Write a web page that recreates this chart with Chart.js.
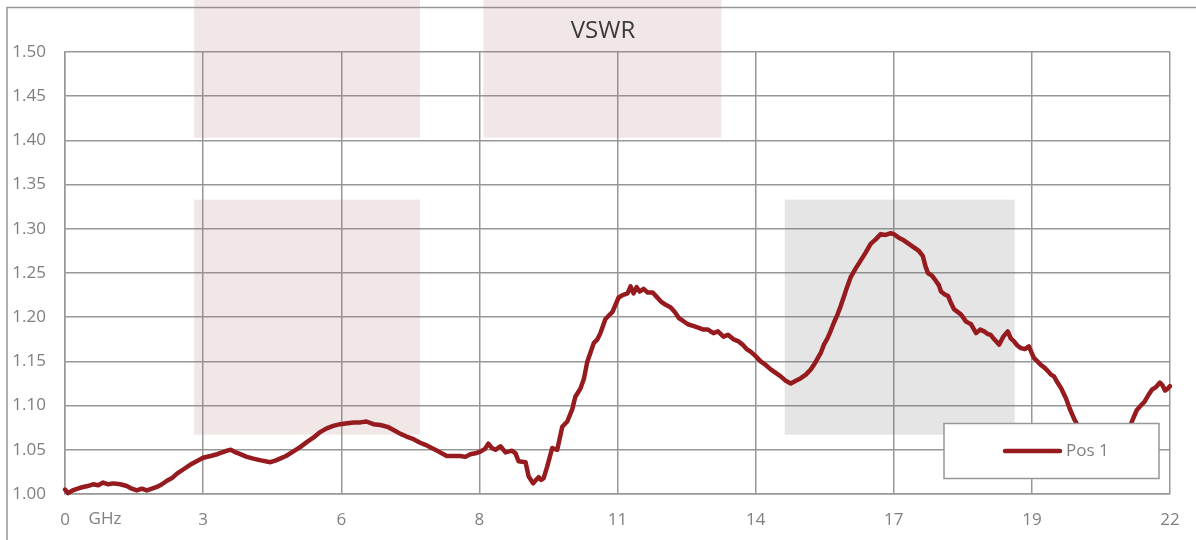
<!DOCTYPE html>
<html>
<head>
<meta charset="utf-8">
<script src="https://cdn.jsdelivr.net/npm/chart.js@4/dist/chart.umd.min.js"></script>
<style>
  html, body { margin: 0; padding: 0; background: #fff; }
  #wrap { position: relative; width: 1196px; height: 540px; }
</style>
</head>
<body>
<div id="wrap"><canvas id="vswrChart"></canvas></div>
<script>
// frequency (GHz) and VSWR
const freqGHz = [
  0.00, 0.06, 0.15, 0.30, 0.45, 0.56, 0.66, 0.76, 0.86, 0.96, 1.10, 1.23, 1.33, 1.43, 1.53, 1.63, 1.73, 1.83, 1.93, 2.03,
  2.13, 2.23, 2.36, 2.49, 2.62, 2.75, 2.90, 3.03, 3.13, 3.23, 3.30, 3.40, 3.49, 3.62, 3.75, 3.90, 4.09, 4.20, 4.28, 4.40,
  4.54, 4.68, 4.82, 4.95, 5.08, 5.20, 5.34, 5.48, 5.62, 5.75, 5.88, 6.00, 6.14, 6.28, 6.42, 6.55, 6.68, 6.80, 6.94, 7.07,
  7.20, 7.30, 7.41, 7.50, 7.60, 7.75, 7.87, 7.97, 8.07, 8.17, 8.27, 8.36, 8.43, 8.50, 8.57, 8.67, 8.77, 8.90, 8.97, 9.03,
  9.17, 9.23, 9.32, 9.38, 9.43, 9.48, 9.53, 9.60, 9.70, 9.80, 9.90, 10.00, 10.10, 10.16, 10.26, 10.33, 10.40, 10.53, 10.60, 10.66,
  10.76, 10.90, 11.02, 11.10, 11.20, 11.26, 11.32, 11.38, 11.44, 11.52, 11.60, 11.70, 11.78, 11.86, 11.96, 12.06, 12.14, 12.22, 12.30, 12.40,
  12.52, 12.62, 12.71, 12.80, 12.91, 13.00, 13.11, 13.20, 13.31, 13.40, 13.49, 13.57, 13.65, 13.75, 13.85, 13.95, 14.05, 14.15, 14.25, 14.35,
  14.45, 14.55, 14.65, 14.75, 14.85, 14.92, 14.99, 15.05, 15.11, 15.18, 15.24, 15.31, 15.38, 15.44, 15.50, 15.57, 15.64, 15.74, 15.84, 15.94,
  16.04, 16.14, 16.24, 16.34, 16.44, 16.50, 16.60, 16.70, 16.80, 16.90, 17.00, 17.08, 17.13, 17.18, 17.26, 17.34, 17.40, 17.44, 17.51, 17.58,
  17.64, 17.70, 17.77, 17.84, 17.94, 18.04, 18.14, 18.22, 18.30, 18.37, 18.43, 18.50, 18.60, 18.68, 18.77, 18.83, 18.89, 18.96, 19.03, 19.11,
  19.19, 19.29, 19.36, 19.43, 19.50, 19.57, 19.63, 19.69, 19.76, 19.83, 19.93, 20.00, 20.10, 20.18, 20.35, 20.55, 20.70, 20.85, 21.00, 21.20,
  21.27, 21.34, 21.42, 21.50, 21.57, 21.64, 21.72, 21.80, 21.85, 21.90, 21.95, 22.00
];
const vswr = [
  1.005, 1.001, 1.004, 1.007, 1.009, 1.011, 1.010, 1.013, 1.011, 1.012, 1.011, 1.009, 1.006, 1.004, 1.006, 1.004, 1.006, 1.008, 1.011, 1.015,
  1.018, 1.023, 1.028, 1.033, 1.037, 1.041, 1.043, 1.045, 1.047, 1.049, 1.050, 1.047, 1.045, 1.042, 1.040, 1.038, 1.036, 1.038, 1.040, 1.043,
  1.048, 1.053, 1.059, 1.064, 1.070, 1.074, 1.077, 1.079, 1.080, 1.081, 1.081, 1.082, 1.079, 1.078, 1.076, 1.072, 1.068, 1.065, 1.062, 1.058,
  1.055, 1.052, 1.049, 1.046, 1.043, 1.043, 1.043, 1.042, 1.045, 1.046, 1.048, 1.051, 1.057, 1.052, 1.050, 1.054, 1.047, 1.049, 1.046, 1.037,
  1.036, 1.020, 1.012, 1.016, 1.019, 1.016, 1.018, 1.031, 1.052, 1.050, 1.076, 1.082, 1.096, 1.110, 1.119, 1.130, 1.150, 1.171, 1.175, 1.182,
  1.198, 1.206, 1.222, 1.225, 1.227, 1.235, 1.227, 1.234, 1.229, 1.232, 1.228, 1.228, 1.223, 1.218, 1.214, 1.211, 1.206, 1.199, 1.196, 1.192,
  1.190, 1.188, 1.186, 1.186, 1.182, 1.184, 1.178, 1.180, 1.175, 1.173, 1.169, 1.164, 1.161, 1.156, 1.150, 1.146, 1.141, 1.137, 1.133, 1.128,
  1.125, 1.128, 1.131, 1.135, 1.141, 1.147, 1.154, 1.160, 1.169, 1.176, 1.184, 1.194, 1.203, 1.212, 1.222, 1.234, 1.245, 1.255, 1.264, 1.273,
  1.283, 1.288, 1.294, 1.293, 1.295, 1.294, 1.290, 1.287, 1.283, 1.279, 1.275, 1.269, 1.258, 1.250, 1.247, 1.241, 1.236, 1.229, 1.226, 1.224,
  1.216, 1.209, 1.206, 1.203, 1.195, 1.192, 1.182, 1.186, 1.184, 1.181, 1.180, 1.175, 1.169, 1.178, 1.184, 1.176, 1.173, 1.168, 1.165, 1.164,
  1.167, 1.154, 1.150, 1.146, 1.143, 1.139, 1.135, 1.133, 1.126, 1.120, 1.108, 1.097, 1.084, 1.076, 1.058, 1.042, 1.038, 1.045, 1.060, 1.076,
  1.086, 1.095, 1.100, 1.105, 1.112, 1.118, 1.121, 1.126, 1.123, 1.117, 1.119, 1.122
];

// x ticks sit every 2.75 GHz, labels are rounded to whole GHz
const tickGHz = [0, 2.75, 5.5, 8.25, 11, 13.75, 16.5, 19.25, 22];
const tickLabels = ['0', '3', '6', '8', '11', '14', '17', '19', '22'];

// shaded bands [xFrom, xTo, yFrom, yTo] in GHz / VSWR
const pinkBands = [
  [2.57, 7.07, 1.067, 1.333],
  [2.57, 7.07, 1.403, 1.56],
  [8.33, 13.07, 1.403, 1.56]
];
const greyBands = [
  [14.33, 18.91, 1.067, 1.333]
];

const seriesName = 'Pos 1';
const lineColor = '#951b1e';
const gridColor = '#979797';
const labelColor = '#7f7f7f';
const fontFamily = '"Open Sans", "DejaVu Sans", sans-serif';

const extras = {
  id: 'extras',
  beforeDraw(chart) {
    const ctx = chart.ctx;
    ctx.save();
    ctx.strokeStyle = gridColor;
    ctx.lineWidth = 1.5;
    ctx.strokeRect(7, 7.5, 1400, 800);
    ctx.restore();
  },
  beforeDatasetsDraw(chart) {
    const { ctx, scales: { x, y } } = chart;
    const fillBand = (b, color) => {
      const x0 = x.getPixelForValue(b[0]), x1 = x.getPixelForValue(b[1]);
      const y0 = y.getPixelForValue(b[3]), y1 = y.getPixelForValue(b[2]);
      ctx.fillStyle = color;
      ctx.fillRect(x0, y0, x1 - x0, y1 - y0);
    };
    ctx.save();
    pinkBands.forEach(b => fillBand(b, 'rgba(180,110,110,0.17)'));
    greyBands.forEach(b => fillBand(b, 'rgba(110,110,110,0.18)'));
    ctx.restore();
  },
  afterDraw(chart) {
    const { ctx, scales: { x } } = chart;
    ctx.save();
    // title
    ctx.fillStyle = '#3a3a3a';
    ctx.font = '24px ' + fontFamily;
    ctx.textAlign = 'center';
    ctx.textBaseline = 'middle';
    ctx.fillText('VSWR', 603, 31);
    // unit next to the first tick
    ctx.fillStyle = labelColor;
    ctx.font = '17px ' + fontFamily;
    ctx.fillText('GHz', x.getPixelForValue(0) + 40, 519);
    // legend box
    ctx.fillStyle = '#ffffff';
    ctx.fillRect(944, 423, 215, 55);
    ctx.strokeStyle = gridColor;
    ctx.lineWidth = 1.5;
    ctx.strokeRect(944, 423.5, 215, 55);
    ctx.strokeStyle = lineColor;
    ctx.lineWidth = 4.5;
    ctx.lineCap = 'round';
    ctx.beginPath();
    ctx.moveTo(1005, 451);
    ctx.lineTo(1060, 451);
    ctx.stroke();
    ctx.fillStyle = labelColor;
    ctx.textAlign = 'left';
    ctx.fillText(seriesName, 1066, 451);
    ctx.restore();
  }
};

const ctx = document.getElementById('vswrChart').getContext('2d');
new Chart(ctx, {
  type: 'line',
  data: {
    datasets: [{
      label: seriesName,
      data: freqGHz.map((f, i) => ({ x: f, y: vswr[i] })),
      borderColor: lineColor,
      borderWidth: 4.5,
      borderJoinStyle: 'round',
      borderCapStyle: 'round',
      pointRadius: 0,
      tension: 0,
      clip: 6
    }]
  },
  options: {
    responsive: true,
    maintainAspectRatio: false,
    animation: false,
    layout: { padding: { top: 52, right: 26, left: 0, bottom: 0 } },
    plugins: {
      legend: { display: false },
      title: { display: false },
      tooltip: { enabled: false }
    },
    scales: {
      x: {
        type: 'linear',
        min: 0,
        max: 22,
        afterBuildTicks: scale => {
          scale.ticks = tickGHz.map(v => ({ value: v }));
        },
        afterFit: scale => { scale.height = 46; },
        grid: { color: gridColor, lineWidth: 1.5, drawTicks: false },
        border: { color: gridColor, width: 1.5 },
        ticks: {
          padding: 16,
          color: labelColor,
          font: { family: fontFamily, size: 17 },
          maxRotation: 0,
          autoSkip: false,
          callback: (value, index) => tickLabels[index]
        }
      },
      y: {
        min: 1.0,
        max: 1.5,
        afterFit: scale => { scale.width = 65; },
        grid: { color: gridColor, lineWidth: 1.5, drawTicks: false },
        border: { color: gridColor, width: 1.5 },
        ticks: {
          stepSize: 0.05,
          padding: 19,
          color: labelColor,
          font: { family: fontFamily, size: 17 },
          callback: value => value.toFixed(2)
        }
      }
    }
  },
  plugins: [extras]
});
</script>
</body>
</html>
